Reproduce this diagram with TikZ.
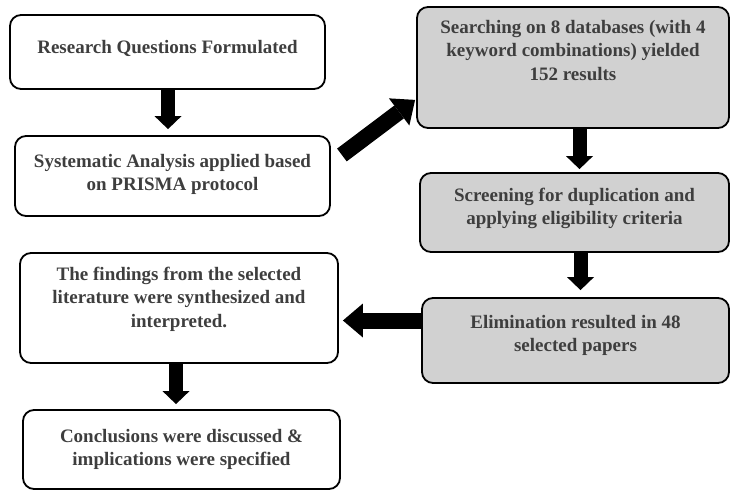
\documentclass[tikz,border=0pt]{standalone}
\usepackage{fontspec}
\setmainfont{Liberation Serif}
\usetikzlibrary{arrows.meta}
\definecolor{boxgray}{RGB}{209,209,209}
\definecolor{txtgray}{RGB}{62,62,62}
\newcommand{\boxtext}[4]{\parbox[c][#2pt][t]{#1pt}{\centering\rule{0pt}{#3pt}#4}}
\begin{document}
\begin{tikzpicture}[x=1pt,y=-1pt,
  box/.style={draw=black, line width=1.8pt, rounded corners=11pt, inner sep=0pt,
    font=\fontsize{19}{23.5}\selectfont\bfseries, text=txtgray},
  graybox/.style={box, fill=boxgray},
  arr/.style={draw=black, line width=14pt, -{Triangle[length=13pt,width=27pt,line width=0pt]}},
  bigarr/.style={draw=black, line width=16pt, -{Triangle[length=20pt,width=34pt,line width=0pt]}}]
\useasboundingbox (0,0) rectangle (730,490);
\node[box] (b1) at (167.5,52) {\boxtext{315}{74}{38}{Research Questions Formulated}};
\node[box] (b2) at (172.5,176) {\boxtext{315}{80}{31}{Systematic Analysis applied based\\on PRISMA protocol}};
\node[graybox] (b3) at (573,67.5) {\boxtext{312}{121}{26}{Searching on 8 databases (with 4\\keyword combinations) yielded\\152 results}};
\node[graybox] (b4) at (574.5,212.5) {\boxtext{309}{79}{28}{Screening for duplication and\\applying eligibility criteria}};
\node[graybox] (b5) at (575.5,340.5) {\boxtext{307}{85}{30}{Elimination resulted in 48\\selected papers}};
\node[box] (b6) at (179,308) {\boxtext{318}{110}{27}{The findings from the selected\\literature were synthesized and\\interpreted.}};
\node[box] (b7) at (181.5,449.5) {\boxtext{317}{79}{32}{Conclusions were discussed \&\\implications were specified}};
\draw[arr, shorten >=6pt] ([xshift=0.5pt]b1.south) -- ([xshift=-4.5pt]b2.north);
\draw[bigarr] ([xshift=11pt,yshift=21pt]b2.east) -- ([xshift=-1pt,yshift=29pt]b3.south west);
\draw[arr, shorten >=3pt] ([xshift=6.5pt]b3.south) -- ([xshift=5pt]b4.north);
\draw[arr, shorten >=7pt] ([xshift=6pt]b4.south) -- ([xshift=5pt]b5.north);
\draw[bigarr, shorten >=4pt] ([yshift=20pt]b5.west) -- ([yshift=-12.5pt]b6.east);
\draw[arr, shorten >=5pt] ([xshift=-3pt]b6.south) -- ([xshift=-5.5pt]b7.north);
\end{tikzpicture}
\end{document}
